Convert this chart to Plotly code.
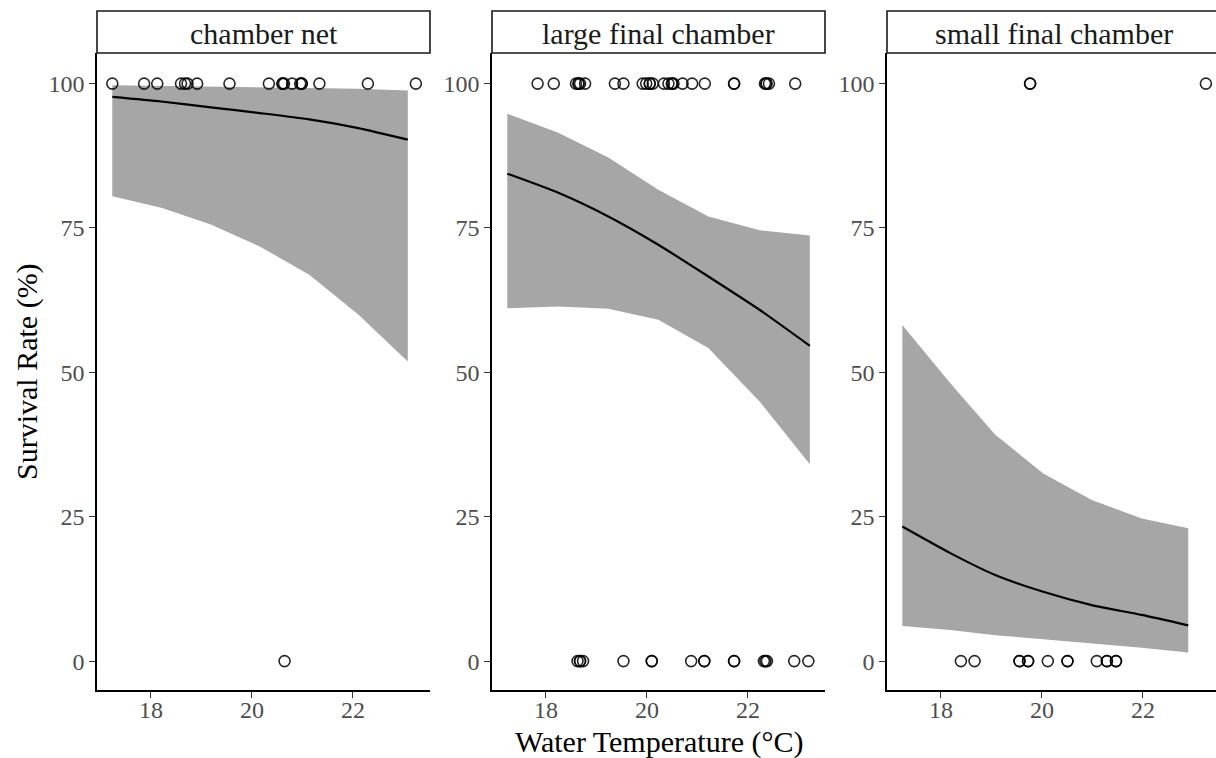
import plotly.graph_objects as go

# ---------------- data ----------------
panels = ["chamber net", "large final chamber", "small final chamber"]

grid_net = [17.24, 18.21, 19.19, 20.16, 21.14, 22.11, 23.09]
fit_net = [97.7, 96.9, 95.9, 94.9, 93.8, 92.3, 90.3]
upper_net = [99.7, 99.6, 99.5, 99.4, 99.3, 99.1, 98.8]
lower_net = [80.5, 78.5, 75.6, 71.8, 66.9, 60.0, 51.9]

grid_large = [17.24, 18.25, 19.24, 20.23, 21.22, 22.24, 23.23]
fit_large = [84.4, 81.1, 77.0, 72.1, 66.6, 60.8, 54.6]
upper_large = [94.8, 91.5, 87.2, 81.6, 77.0, 74.6, 73.7]
lower_large = [61.1, 61.4, 61.0, 59.1, 54.2, 44.9, 34.1]

grid_small = [17.24, 18.19, 19.08, 20.03, 20.99, 21.98, 22.90]
fit_small = [23.3, 18.7, 14.9, 12.0, 9.7, 8.0, 6.2]
upper_small = [58.2, 48.1, 39.2, 32.5, 27.9, 24.7, 23.0]
lower_small = [6.1, 5.4, 4.5, 3.8, 3.1, 2.3, 1.5]

# observed points (temperature, survival %)
net_alive = [17.24, 17.87, 18.13, 18.60, 18.68, 18.73, 18.92, 19.56, 20.34, 20.61,
             20.61, 20.64, 20.80, 20.96, 20.99, 20.99, 21.34, 22.30, 23.25]
net_dead = [20.65]

large_alive = [17.84, 18.16, 18.60, 18.65, 18.65, 18.68, 18.78, 19.37, 19.54, 19.92,
               19.99, 20.06, 20.06, 20.12, 20.34, 20.43, 20.50, 20.50, 20.53, 20.71,
               20.90, 21.15, 21.73, 21.73, 22.34, 22.37, 22.37, 22.42, 22.94]
large_dead = [18.63, 18.68, 18.68, 18.74, 19.54, 20.10, 20.10, 20.88, 21.14, 21.14,
              21.73, 21.73, 22.32, 22.35, 22.38, 22.92, 23.20]

small_alive = [19.77, 19.77, 23.25]
small_dead = [18.40, 18.67, 19.56, 19.56, 19.73, 19.73, 20.12, 20.51, 20.51,
              21.09, 21.29, 21.29, 21.47, 21.47]

x_ticks = [18, 20, 22]
y_ticks = [0, 25, 50, 75, 100]

# ---------------- layout geometry ----------------
W, H = 1216, 758
ML, MR, MT, MB = 97, 0, 53, 68
PW = W - ML - MR
PH = H - MT - MB


def px_x(p):
    return (p - ML) / PW


def px_y(p):
    return (H - MB - p) / PH


domains = [
    [px_x(97), px_x(430)],
    [px_x(492), px_x(825)],
    [px_x(887), 1.0],
]
xranges = [[16.937, 23.53], [16.937, 23.53], [16.937, 23.45]]

FONT = "Liberation Serif, Times New Roman, serif"
RIBBON = "#a6a6a6"
TICKCOL = "#4d4d4d"

series = [
    (grid_net, fit_net, upper_net, lower_net, net_alive, net_dead),
    (grid_large, fit_large, upper_large, lower_large, large_alive, large_dead),
    (grid_small, fit_small, upper_small, lower_small, small_alive, small_dead),
]

fig = go.Figure()
for i, (g, f, u, lo, alive, dead) in enumerate(series):
    xa = "x" if i == 0 else f"x{i+1}"
    ya = "y" if i == 0 else f"y{i+1}"
    fig.add_trace(go.Scatter(
        x=g + g[::-1], y=u + lo[::-1], fill="toself", fillcolor=RIBBON,
        line=dict(width=0), mode="lines", hoverinfo="skip",
        xaxis=xa, yaxis=ya, showlegend=False))
    fig.add_trace(go.Scatter(
        x=g, y=f, mode="lines",
        line=dict(color="black", width=2.2, shape="spline", smoothing=0.6),
        xaxis=xa, yaxis=ya, showlegend=False))
    fig.add_trace(go.Scatter(
        x=alive + dead, y=[100] * len(alive) + [0] * len(dead), mode="markers",
        marker=dict(symbol="circle-open", size=11, color="rgba(0,0,0,0.85)",
                    line=dict(width=1.6)),
        xaxis=xa, yaxis=ya, showlegend=False, cliponaxis=False))

layout = dict(
    width=W, height=H,
    margin=dict(l=ML, r=MR, t=MT, b=MB),
    paper_bgcolor="white", plot_bgcolor="white",
    font=dict(family=FONT, color=TICKCOL),
    showlegend=False,
)

for i in range(3):
    xkey = "xaxis" if i == 0 else f"xaxis{i+1}"
    ykey = "yaxis" if i == 0 else f"yaxis{i+1}"
    yref = "y" if i == 0 else f"y{i+1}"
    xref = "x" if i == 0 else f"x{i+1}"
    layout[xkey] = dict(
        domain=domains[i], range=xranges[i], anchor=yref,
        tickvals=x_ticks, showticklabels=False,
        showgrid=False, zeroline=False, showline=True, linecolor="black",
        linewidth=1.6, ticks="outside", ticklen=6, tickwidth=1.2,
        tickcolor="#333333",
    )
    layout[ykey] = dict(
        domain=[0, 1], range=[-5, 105.3], anchor=xref,
        tickvals=y_ticks, ticktext=[str(t) for t in y_ticks],
        showgrid=False, zeroline=False, showline=True, linecolor="black",
        linewidth=1.6, ticks="outside", ticklen=6, tickwidth=1.2,
        tickcolor="#333333", tickfont=dict(family=FONT, size=24, color=TICKCOL),
        ticklabelstandoff=0,
    )

fig.update_layout(**layout)

# x tick labels placed at the axis' own data positions
for i in range(3):
    xref = "x" if i == 0 else f"x{i+1}"
    for t in x_ticks:
        fig.add_annotation(xref=xref, yref="paper", x=t, y=px_y(710),
                           text=str(t), showarrow=False,
                           font=dict(family=FONT, size=24, color=TICKCOL),
                           xanchor="center", yanchor="middle")

# strip boxes and labels
strip_right = [px_x(430), px_x(825), px_x(1220)]
strip_left = [px_x(97), px_x(492), px_x(887)]
for i, name in enumerate(panels):
    fig.add_shape(type="rect", xref="paper", yref="paper",
                  x0=strip_left[i], x1=strip_right[i],
                  y0=px_y(53), y1=px_y(11),
                  line=dict(color="#1a1a1a", width=1.6), fillcolor="white")
    fig.add_annotation(xref="paper", yref="paper",
                       x=(strip_left[i] + strip_right[i]) / 2,
                       y=px_y(33), text=name, showarrow=False,
                       font=dict(family=FONT, size=30, color="#1a1a1a"),
                       xanchor="center", yanchor="middle")

# axis titles
fig.add_annotation(xref="paper", yref="paper", x=px_x(659), y=px_y(742),
                   text="Water Temperature (°C)", showarrow=False,
                   font=dict(family=FONT, size=30, color="black"),
                   xanchor="center", yanchor="middle")
fig.add_annotation(xref="paper", yref="paper", x=px_x(27), y=px_y(372),
                   text="Survival Rate (%)", showarrow=False, textangle=-90,
                   font=dict(family=FONT, size=30, color="black"),
                   xanchor="center", yanchor="middle")

fig.write_html(
    "out.html",
    config={"displayModeBar": False},
    post_script="document.body.style.margin='0';document.body.style.overflow='hidden';",
)
